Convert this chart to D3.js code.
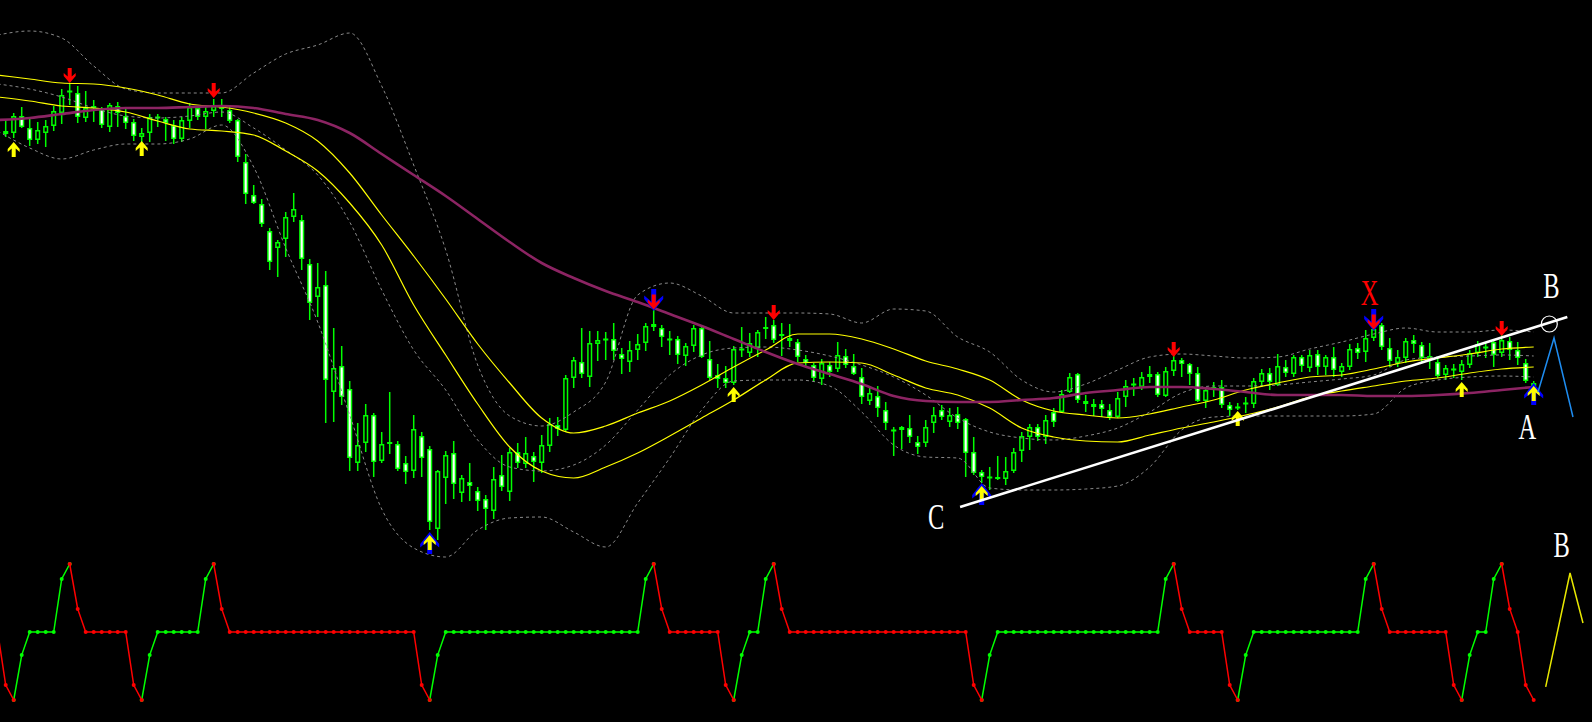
<!DOCTYPE html>
<html><head><meta charset="utf-8">
<script src="https://cdn.jsdelivr.net/npm/d3@7"></script>
<style>html,body{margin:0;padding:0;background:#000;overflow:hidden}</style>
</head><body>
<svg id="chart" width="1592" height="722"></svg>
<script>
// ---------- candle data (bar 0..191) ----------
const openP = [
869,867,884,872,860,867,874,887,908,907, 882,892,891,873,894,884,878,863,867,882,
881,875,861,879,892,883,889,894,890,880, 838,805,796,769,752,761,783,780,736,703,
715,608,634,611,537,557,585,539,556,556, 537,529,564,551,471,522,547,507,518,509,
501,489,525,508,548,536,544,537,554,575, 570,622,638,623,656,660,661,646,638,650,
657,676,672,660,661,644,654,672,641,625, 622,617,650,647,652,671,675,664,659,658,
641,635,621,635,631,644,634,623,599,604, 590,569,570,572,558,557,577,590,578,586,
581,548,528,522,521,521,529,549,563,573, 563,588,588,608,626,599,596,596,590,583,
603,615,613,623,626,604,629,640,636,627, 599,610,613,595,592,596,596,618,627,615,
633,626,643,632,646,633,643,628,633,652, 648,662,675,652,637,642,660,655,640,638,
625,630,628,635,647,652,658,647,659,650, 637,614];
const closeP = [
866,884,873,860,870,874,889,905,909,883, 892,894,875,895,887,877,864,867,883,883,
877,861,880,893,883,889,894,891,879,843, 806,797,776,738,758,783,791,741,697,713,
620,632,603,542,555,585,538,556,558,531, 528,571,542,478,529,545,516,522,514,499,
491,521,513,548,537,547,538,555,576,571, 622,640,626,657,660,661,649,641,650,656,
674,673,663,661,645,654,672,643,622,621, 617,651,651,657,668,673,660,666,662,643,
637,622,637,628,645,635,626,603,607,592, 577,570,573,563,553,573,585,583,585,577,
547,527,523,523,523,529,548,564,573,563, 580,578,606,623,600,596,593,591,583,602,
614,616,623,626,605,629,640,636,626,599, 610,613,595,590,593,597,619,627,618,634,
627,643,634,645,633,643,630,634,651,647, 662,671,653,639,643,659,656,642,644,624,
632,631,636,647,656,653,645,660,650,642, 619,617];
const highP = [
880,887,893,881,878,880,894,911,917,914, 909,900,893,897,898,891,881,872,886,886,
883,880,883,897,894,893,901,901,893,881, 846,815,801,772,760,788,807,785,741,737,
729,672,654,619,577,596,587,568,608,559, 544,585,568,554,530,549,559,525,537,513,
505,533,545,552,557,563,548,565,582,583, 625,643,672,669,669,668,677,652,659,666,
677,690,675,669,664,657,675,675,659,636, 634,654,673,667,670,683,680,677,676,661,
645,637,641,638,658,651,646,632,614,614, 598,573,574,585,564,580,593,595,592,593,
582,563,530,533,544,543,552,568,576,576, 585,592,610,627,627,605,601,600,596,608,
620,622,628,634,628,633,646,642,637,633, 613,618,620,598,597,603,622,631,632,646,
640,645,645,650,650,645,653,637,656,657, 670,678,677,662,650,662,665,658,657,642,
635,636,640,650,659,658,660,667,663,658, 641,619];
const lowP = [
863,862,872,854,856,853,869,876,895,877, 878,878,872,868,873,871,859,858,858,873,
859,856,858,872,880,871,883,883,877,838, 796,796,773,730,723,743,778,730,680,683,
577,578,595,529,529,548,523,537,546,529, 516,522,523,470,460,496,501,498,499,489,
470,481,509,499,532,532,518,527,548,564, 568,612,622,613,639,640,640,626,628,640,
649,669,653,645,636,634,648,642,620,612, 612,615,643,643,643,661,657,644,653,638,
633,618,615,623,628,632,625,596,595,583, 570,544,551,557,546,553,567,580,573,571,
523,525,517,510,520,515,527,538,550,559, 556,573,587,607,597,588,584,583,580,582,
593,604,610,617,603,603,624,623,615,598, 592,603,592,584,590,587,592,613,610,614,
623,623,628,628,625,625,623,623,630,641, 638,659,650,633,633,637,647,638,631,622,
620,622,620,632,643,642,633,643,640,635, 617,612];

// ---------- indicator lines, sampled every 4 bars (bars -1,3,7,...,191) ----------
const maFast = [925,921,917,916,912,905,896,893,887,877, 859,827,785,744,701,656,617,582,567,574,
587,599,615,633,650,666,666,661,651,639, 631,620,600,589,585,582,586,593,600,610, 617,623,625,631,638,642,646,651,653];
const maSlow = [903,899,894,892,888,879,871,869,865,849, 829,797,755,695,645,596,553,529,522,533,
547,564,582,600,620,637,638,637,625,612, 605,592,572,563,559,558,565,572,578,585, 593,603,609,614,619,622,627,631,633];
const maLong = [880,882,886,890,892,892,893,894,892,886, 880,867,846,825,804,781,758,737,722,709,
698,686,674,661,648,636,626,616,604,599, 598,598,600,602,607,610,613,613,611,608, 605,605,605,604,604,605,607,610,613];
const bbUpper = [965,969,962,934,911,907,907,907,927,946, 955,967,914,835,750,635,584,574,588,618,
705,717,704,687,687,687,686,677,691,689, 663,648,620,608,616,630,643,646,644,642, 643,651,658,666,672,668,668,670,668];
const bbMiddle = [916,911,903,892,884,882,884,888,872,850, 825,778,710,650,610,560,533,529,535,555,
590,625,645,652,653,650,644,635,623,605, 582,568,562,560,564,572,588,607,614,614, 615,618,621,625,640,643,644,645,644];
const bbLower = [869,852,841,850,856,856,861,875,833,752, 678,585,491,452,443,470,482,483,468,453,
497,542,590,619,620,620,614,588,555,543, 542,512,510,510,511,514,533,570,583,584, 584,584,584,586,612,620,623,624,623];

// ---------- oscillator (bars -1..191) ----------
const oscValues = [
50,11,0,33,50,50,50,50,89,100,67,
50,50,50,50,50,50,
11,0,33,
50,50,50,50,50,50,
89,100,67,
50,50,50,50,50,50,50,50,50,50,50,50,50,50,50,50,50,50,50,50,50,50,50,50,
11,0,33,
50,50,50,50,50,50,50,50,50,50,50,50,50,50,50,50,50,50,50,50,50,50,50,50,50,
89,100,67,
50,50,50,50,50,50,50,
11,0,33,
50,50,
89,100,67,
50,50,50,50,50,50,50,50,50,50,50,50,50,50,50,50,50,50,50,50,50,50,50,
11,0,33,
50,50,50,50,50,50,50,50,50,50,50,50,50,50,50,50,50,50,50,50,50,
89,100,67,
50,50,50,50,50,
11,0,33,
50,50,50,50,50,50,50,50,50,50,50,50,50,50,
89,100,67,
50,50,50,50,50,50,50,50,
11,0,33,
50,50,
89,100,67,
50,
11,0];
const oscUpLegs = [[1,8],[17,26],[53,81],[91,96],[122,146],[154,171],[182,187]];
const oscDownLegs = [[-1,1],[8,17],[26,53],[81,91],[96,122],[146,154],[171,182],[187,191]];

// ---------- signal arrows ----------
const sellBars = [8,26,96,146,187],      sellTips = [917,902,680,643,664];
const buyBars = [1,17,91,154,182],       buyTips = [858,859,613,589,618];
const bigSellBars = [81,171],            bigSellTips = [689,669];
const bigBuyBars = [53,122,191],         bigBuyTips = [468,517,617];

// ---------- drawing objects ----------
const trendBars = [119.3,195.2], trendPrices = [493,683];
const ringBar = 192.95, ringPrice = 676;
const projBars = [191.54,193.54,195.91], projPrices = [608,662,583];
const oscProjBars = [192.5,195.54,197.16], oscProjVals = [9.6,93.4,56.6];
const labelTexts = ["X","B","A","C"];
const labelBars = [170.5,193.2,190.2,116.3];
const labelPrices = [695,702,561,471];
const oscLabelText = "B", oscLabelBar = 194.5, oscLabelVal = 105;

// ================= rendering =================
const svg = d3.select("#chart");
svg.append("rect").attr("width",1592).attr("height",722).attr("fill","#000");

const x = d3.scaleLinear().domain([0,191]).range([5.7,1533.7]);
const y = d3.scaleLinear().domain([400,1000]).range([600,0]);
const yo = d3.scaleLinear().domain([0,100]).range([700,564]);
const GREEN = "#00ff00";

// candles
const bars = d3.range(openP.length).map(i => ({i, o:openP[i], h:highP[i], l:lowP[i], c:closeP[i]}));
const gC = svg.append("g");
gC.selectAll("line.wick").data(bars).join("line")
  .attr("x1", d=>x(d.i)).attr("x2", d=>x(d.i))
  .attr("y1", d=>y(d.h)).attr("y2", d=>y(d.l))
  .attr("stroke", GREEN).attr("stroke-width", 1.5);
bars.forEach(d => {
  const top = y(Math.max(d.o,d.c)), bot = y(Math.min(d.o,d.c));
  const cx = x(d.i);
  if (bot - top < 2) {
    gC.append("line").attr("x1",cx-2.6).attr("x2",cx+2.6)
      .attr("y1",(top+bot)/2).attr("y2",(top+bot)/2)
      .attr("stroke", d.c < d.o ? "#ffffff" : GREEN).attr("stroke-width", 2);
    if (d.c < d.o) gC.append("rect").attr("x",cx-2.6).attr("y",top-1).attr("width",5.2).attr("height",Math.max(2,bot-top+2))
      .attr("fill","#fff").attr("stroke",GREEN).attr("stroke-width",1);
  } else {
    gC.append("rect").attr("x",cx-1.8).attr("y",top+0.75).attr("width",3.6).attr("height",bot-top-1.5)
      .attr("fill", d.c < d.o ? "#ffffff" : "#000000")
      .attr("stroke", GREEN).attr("stroke-width", 1.5);
  }
});

// indicator lines
const lineBars = d3.range(-1, 192, 4);
const linePath = d3.line().x((d,i)=>x(lineBars[i])).y(d=>y(d)).curve(d3.curveMonotoneX);
const gL = svg.append("g").attr("fill","none");
[bbUpper,bbMiddle,bbLower].forEach(arr => {
  gL.append("path").attr("d", linePath(arr)).attr("stroke","#8a8a8a")
    .attr("stroke-width",1).attr("stroke-dasharray","3,3");
});
[maFast, maSlow].forEach(arr => {
  gL.append("path").attr("d", linePath(arr)).attr("stroke","#ffff00").attr("stroke-width",1.2);
});
gL.append("path").attr("d", linePath(maLong)).attr("stroke","#8c2463").attr("stroke-width",2.6);

// arrows
function arrowPath(big){
  if (big) return "M0,0 L9.5,12 L9.5,15.5 L2.5,9.5 L2.5,22 L-2.5,22 L-2.5,9.5 L-9.5,15.5 L-9.5,12 Z";
  return "M0,0 L6,7 L6,10 L2,6.6 L2,15 L-2,15 L-2,6.6 L-6,10 L-6,7 Z";
}
const gA = svg.append("g");
function drawArrow(bar, tipVal, up, big, color){
  const t = `translate(${x(bar)},${y(tipVal)}) scale(1,${up?1:-1})`;
  gA.append("path").attr("d", arrowPath(big)).attr("transform", t).attr("fill", color);
}
bigSellBars.forEach((b,i)=>{ drawArrow(b,bigSellTips[i],false,true,"#0000ff"); drawArrow(b,bigSellTips[i]+1.5,false,false,"#ff0000"); });
bigBuyBars.forEach((b,i)=>{ drawArrow(b,bigBuyTips[i],true,true,"#0000ff"); drawArrow(b,bigBuyTips[i]-3,true,false,"#ffff00"); });
sellBars.forEach((b,i)=>drawArrow(b,sellTips[i],false,false,"#ff0000"));
buyBars.forEach((b,i)=>drawArrow(b,buyTips[i],true,false,"#ffff00"));

// trend line, ring, projection
svg.append("line").attr("x1",x(trendBars[0])).attr("y1",y(trendPrices[0]))
  .attr("x2",x(trendBars[1])).attr("y2",y(trendPrices[1]))
  .attr("stroke","#ffffff").attr("stroke-width",2.6);
svg.append("circle").attr("cx",x(ringBar)).attr("cy",y(ringPrice)).attr("r",8)
  .attr("fill","none").attr("stroke","#ffffff").attr("stroke-width",1.2);
svg.append("path").attr("d", d3.line().x((d,i)=>x(projBars[i])).y(d=>y(d))(projPrices))
  .attr("fill","none").attr("stroke","#1e8cf0").attr("stroke-width",1.5);

// labels
labelTexts.forEach((t,i)=>{
  svg.append("text").text(t)
    .attr("transform",`translate(${x(labelBars[i])},${y(labelPrices[i])}) scale(0.7,1)`)
    .attr("text-anchor","middle").attr("font-family","'Liberation Serif','DejaVu Serif',serif")
    .attr("font-size",35).attr("fill", t==="X" ? "#ff0000" : "#ffffff");
});

// oscillator
const gO = svg.append("g");
const oscLine = d3.line().x(d=>x(d)).y(d=>yo(oscValues[d+1]));
function drawLegs(legs, color){
  legs.forEach(([a,b])=>{
    const ks = d3.range(a, b+1);
    gO.append("path").attr("d", oscLine(ks)).attr("fill","none").attr("stroke",color).attr("stroke-width",1.5);
    gO.selectAll(null).data(ks).join("circle")
      .attr("cx", d=>x(d)).attr("cy", d=>yo(oscValues[d+1])).attr("r",2).attr("fill",color);
  });
}
drawLegs(oscUpLegs, GREEN);
drawLegs(oscDownLegs, "#ff0000");
gO.append("path").attr("d", d3.line().x((d,i)=>x(oscProjBars[i])).y(d=>yo(d))(oscProjVals))
  .attr("fill","none").attr("stroke","#e8e800").attr("stroke-width",1.5);
svg.append("text").text(oscLabelText)
  .attr("transform",`translate(${x(oscLabelBar)},${yo(oscLabelVal)}) scale(0.7,1)`)
  .attr("text-anchor","middle").attr("font-family","'Liberation Serif','DejaVu Serif',serif")
  .attr("font-size",35).attr("fill","#ffffff");
</script>
</body></html>
